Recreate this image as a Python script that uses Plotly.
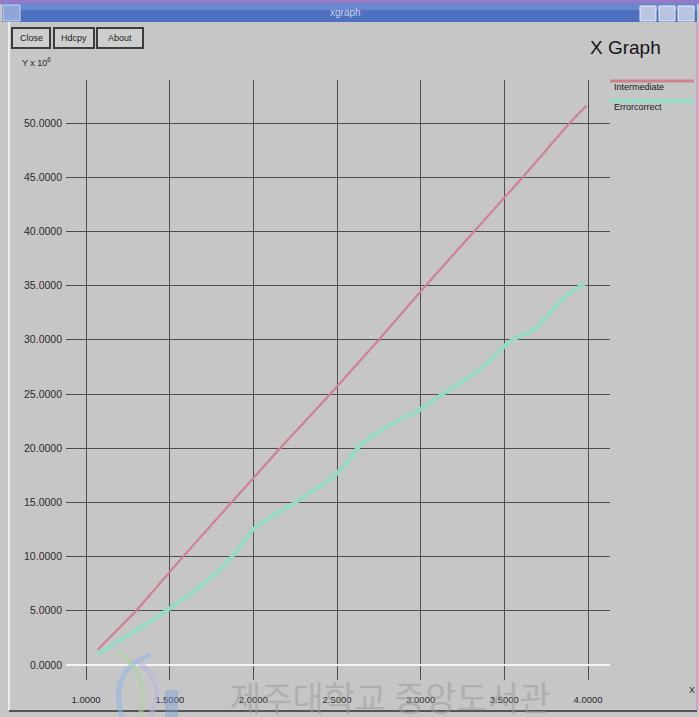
import plotly.graph_objects as go

W, H = 699, 717

# Series read per sample point (Y values in units of 10^6)
x_intermediate = [1.07, 1.30, 1.58, 1.87, 2.16, 2.46, 2.75, 3.03, 3.32, 3.61, 3.89, 3.99]
y_intermediate = [1.4, 5.0, 10.0, 15.0, 20.0, 25.0, 30.0, 35.0, 40.0, 45.0, 50.0, 51.6]

x_errorcorrect = [1.07, 1.27, 1.50, 1.76, 1.90, 2.00, 2.08, 2.26, 2.48, 2.56,
                  2.64, 2.80, 3.00, 3.15, 3.35, 3.53, 3.69, 3.79, 3.89, 3.98]
y_errorcorrect = [1.0, 2.9, 5.2, 8.2, 10.5, 12.5, 13.4, 15.1, 17.4, 18.7,
                  20.3, 22.0, 23.6, 25.2, 27.2, 29.8, 31.1, 32.8, 34.3, 35.2]

x_ticks = [1.0, 1.5, 2.0, 2.5, 3.0, 3.5, 4.0]
y_ticks = [0, 5, 10, 15, 20, 25, 30, 35, 40, 45, 50]

series_names = ["Intermediate", "Errorcorrect"]
series_colors = ["#d0808f", "#94dac6"]

BG = "#c6c6c6"
GRID = "#4e4e4e"
TXT = "#2a2a2a"
FONT = "Liberation Sans"


def fx(px):
    return px / W


def fy(py):
    return 1 - py / H


fig = go.Figure()
fig.add_trace(go.Scatter(x=x_errorcorrect, y=y_errorcorrect, mode="lines",
                         name=series_names[1],
                         line=dict(color=series_colors[1], width=4, shape="spline", smoothing=0.6)))
fig.add_trace(go.Scatter(x=x_intermediate, y=y_intermediate, mode="lines",
                         name=series_names[0],
                         line=dict(color=series_colors[0], width=2.2)))

shapes = []
annotations = []

# window frame: border, title bar, title-bar buttons
shapes.append(dict(type="rect", xref="paper", yref="paper", x0=0, x1=1, y0=fy(4), y1=1,
                   fillcolor="#9a78c8", line_width=0, layer="below"))
shapes.append(dict(type="rect", xref="paper", yref="paper", x0=fx(2), x1=fx(697), y0=fy(22), y1=fy(3),
                   fillcolor="#4f6fbf", line_width=0, layer="below"))
shapes.append(dict(type="rect", xref="paper", yref="paper", x0=fx(2), x1=fx(697), y0=fy(10), y1=fy(3),
                   fillcolor="#6a88cf", line_width=0, layer="below"))
shapes.append(dict(type="rect", xref="paper", yref="paper", x0=fx(3), x1=fx(20), y0=fy(21), y1=fy(5),
                   fillcolor="#8ea6d8", line=dict(color="#c8d4ee", width=1), layer="below"))
for bx in (640, 659, 678):
    shapes.append(dict(type="rect", xref="paper", yref="paper", x0=fx(bx), x1=fx(bx + 16), y0=fy(21), y1=fy(6),
                       fillcolor="#b8c4e0", line=dict(color="#e8ecf6", width=1), layer="below"))
shapes.append(dict(type="line", xref="paper", yref="paper", x0=fx(9), x1=fx(9), y0=fy(710), y1=fy(22),
                   line=dict(color="#ececec", width=2)))
shapes.append(dict(type="line", xref="paper", yref="paper", x0=fx(697), x1=fx(697), y0=fy(710), y1=fy(22),
                   line=dict(color="#d8a0c8", width=2)))
shapes.append(dict(type="line", xref="paper", yref="paper", x0=fx(9), x1=fx(697), y0=fy(711), y1=fy(711),
                   line=dict(color="#555555", width=2)))

annotations.append(dict(text="xgraph", xref="paper", yref="paper", x=fx(345), y=fy(12),
                        showarrow=False, font=dict(family=FONT, size=10, color="#c8d2ee"),
                        xanchor="center", yanchor="middle"))

# command buttons
for label, x0, x1 in (("Close", 12, 50), ("Hdcpy", 54, 94), ("About", 97, 143)):
    shapes.append(dict(type="rect", xref="paper", yref="paper", x0=fx(x0), x1=fx(x1), y0=fy(48), y1=fy(28),
                       fillcolor="#cfcfcf", line=dict(color="#3c3c3c", width=2)))
    annotations.append(dict(text=label, xref="paper", yref="paper", x=fx((x0 + x1) / 2), y=fy(38),
                            showarrow=False, font=dict(family=FONT, size=9, color="#202020"),
                            xanchor="center", yanchor="middle"))

annotations.append(dict(text="X Graph", xref="paper", yref="paper", x=fx(625), y=fy(47),
                        showarrow=False, font=dict(family=FONT, size=19, color="#151515"),
                        xanchor="center", yanchor="middle"))
annotations.append(dict(text="Y x 10<sup>6</sup>", xref="paper", yref="paper", x=fx(20), y=fy(62),
                        showarrow=False, font=dict(family=FONT, size=9, color=TXT),
                        xanchor="left", yanchor="middle"))
annotations.append(dict(text="X", xref="paper", yref="paper", x=fx(692), y=fy(690),
                        showarrow=False, font=dict(family=FONT, size=9, color=TXT),
                        xanchor="center", yanchor="middle"))

# legend in the top-right corner: colored bar over each series name
for i, (name, col) in enumerate(zip(series_names, series_colors)):
    ly = 81 + 20 * i
    shapes.append(dict(type="line", xref="paper", yref="paper", x0=fx(610), x1=fx(694), y0=fy(ly), y1=fy(ly),
                       line=dict(color=col, width=3 if i == 0 else 4)))
    annotations.append(dict(text=name, xref="paper", yref="paper", x=fx(612), y=fy(ly + 6),
                            showarrow=False, font=dict(family=FONT, size=9, color="#202020"),
                            xanchor="left", yanchor="middle"))

# library stamp along the bottom edge
for path, col in (("M 150 655 Q 108 670 122 717", "#8fb8e8"),
                  ("M 118 652 Q 150 672 140 717", "#b0d4a4"),
                  ("M 135 660 Q 168 680 150 717", "#bcb4dc")):
    pts = path.split()
    p = "M {:.5f} {:.5f} Q {:.5f} {:.5f} {:.5f} {:.5f}".format(
        fx(float(pts[1])), fy(float(pts[2])), fx(float(pts[4])), fy(float(pts[5])),
        fx(float(pts[6])), fy(float(pts[7])))
    shapes.append(dict(type="path", xref="paper", yref="paper", path=p,
                       line=dict(color=col, width=5), opacity=0.55))
shapes.append(dict(type="rect", xref="paper", yref="paper", x0=fx(165), x1=fx(178), y0=fy(717), y1=fy(690),
                   fillcolor="#7f9fd8", line_width=0, opacity=0.45))
annotations.append(dict(text="제주대학교 중앙도서관", xref="paper", yref="paper", x=fx(390), y=fy(696),
                        showarrow=False, font=dict(family="Noto Sans CJK KR", size=34, color="#9a9a9a"),
                        xanchor="center", yanchor="middle", opacity=0.5))

fig.update_layout(
    width=W, height=H,
    margin=dict(l=0, r=0, t=0, b=0),
    paper_bgcolor=BG, plot_bgcolor=BG,
    showlegend=False,
    font=dict(family=FONT, size=10, color=TXT),
    shapes=shapes,
    annotations=annotations,
    xaxis=dict(
        domain=[fx(66), fx(610)],
        range=[1.0 - 20 / 167.33, 4.0 + 22 / 167.33],
        tickvals=x_ticks, tickformat=".4f",
        showgrid=True, gridcolor=GRID, gridwidth=1,
        zeroline=False, showline=False,
        ticks="", ticklabelstandoff=12,
        tickfont=dict(family=FONT, size=9.5, color=TXT),
    ),
    yaxis=dict(
        domain=[fy(680), fy(80)],
        range=[-15 / 10.84, 50 + 43 / 10.84],
        tickvals=y_ticks, tickformat=".4f",
        showgrid=True, gridcolor=GRID, gridwidth=1,
        zeroline=True, zerolinecolor="#f4f4f4", zerolinewidth=2,
        showline=False, ticks="", ticklabelstandoff=3,
        tickfont=dict(family=FONT, size=10.5, color=TXT),
    ),
)

fig.write_html("out.html")
